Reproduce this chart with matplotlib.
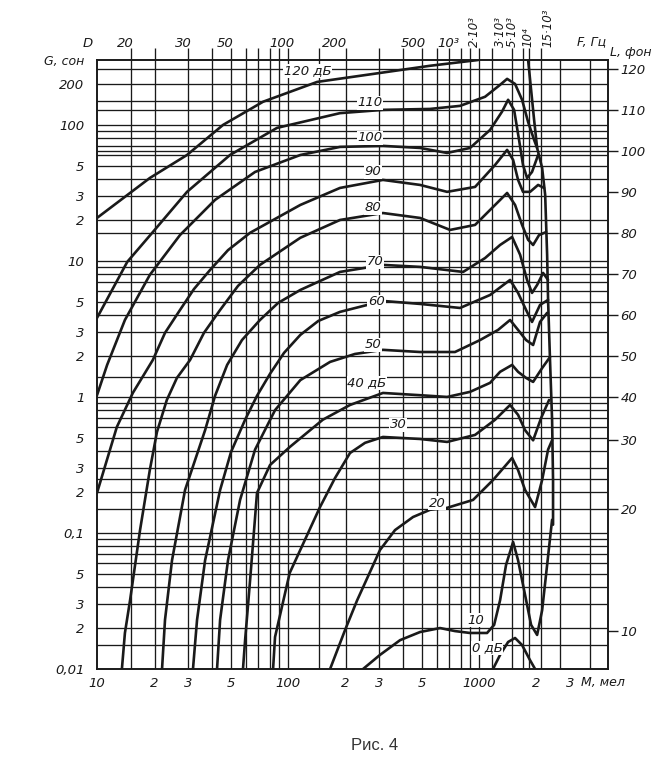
import matplotlib.pyplot as plt

plt.rcParams['font.family'] = ['DejaVu Sans']

# кривые громкости G (сон) в зависимости от высоты M (мел) при уровнях 0...120 дБ
mel_120 = [10, 18.9, 29.6, 45.7, 74, 142, 279, 553, 988, 1288, 1489, 1679, 1806,
           1872, 1941, 2013, 2138, 2218, 2271, 2297, 2354, 2411, 2439, 2439]
g_120 = [20.7, 40.7, 60.1, 100, 148, 207, 237, 272, 300, 368, 394, 356, 300,
         181, 109, 67.7, 48.3, 30.6, 11.1, 5.17, 1.78, 0.678, 0.245, 0.115]

mel_110 = [10, 14.4, 19.6, 29.6, 49.7, 87.6, 187, 314, 553, 795, 1075, 1288, 1402,
           1543, 1679, 1806, 1941, 2013]
g_110 = [3.81, 9.84, 16.3, 32.2, 60.1, 95.1, 122, 129, 131, 138, 161, 197, 218,
         200, 153, 105, 77.6, 67.7]

mel_100 = [10, 11.3, 14.0, 18.9, 27.2, 41.5, 67.2, 116, 187, 314, 491, 680, 897,
           1142, 1318, 1419, 1525, 1619, 1698, 1783, 1893, 2037]
g_100 = [1.03, 1.72, 3.68, 7.89, 15.5, 28.1, 45.1, 60.1, 68.9, 70.1, 67.7, 62.2, 67.7,
         91.9, 125, 153, 129, 77.6, 50.8, 40.7, 45.1, 60.1]

mel_90 = [10, 12.7, 15.4, 19.6, 22.7, 27.2, 32.2, 39.1, 48.5, 63.3, 116, 187, 314, 491,
          680, 953, 1213, 1402, 1507, 1600, 1698, 1849, 2037, 2188]
g_90 = [0.197, 0.601, 1.07, 1.87, 2.96, 4.36, 6.22, 8.59, 12.0, 16.1, 25.8, 34.4, 39.4, 36.2,
        32.2, 35.0, 50.8, 65.5, 55.3, 39.4, 32.2, 32.2, 36.2, 34.4]

mel_80 = [13.5, 14.0, 14.9, 16.8, 18.9, 20.6, 23.2, 26.2, 30.7, 36.3, 44.1, 54.7, 71.3,
          116, 187, 314, 491, 705, 953, 1213, 1402, 1543, 1679, 1806, 1918, 2061, 2244]
g_80 = [0.01, 0.0184, 0.0321, 0.105, 0.29, 0.553, 0.95, 1.38, 1.87, 2.96, 4.36, 6.55, 9.35,
        14.8, 20.0, 22.5, 20.7, 16.9, 18.4, 25.8, 31.6, 25.8, 18.4, 14.3, 13.1, 15.5, 16.3]

mel_70 = [21.9, 22.7, 24.7, 28.9, 36.8, 41.5, 48.0, 57.4, 71.3, 88.7, 116, 187, 314, 491,
          825, 1075, 1288, 1489, 1640, 1783, 1893, 2013, 2163, 2297]
g_70 = [0.01, 0.023, 0.063, 0.207, 0.57, 1.02, 1.72, 2.62, 3.68, 4.91, 6.12, 8.30, 9.35, 9.04,
        8.30, 10.5, 13.1, 15.0, 11.1, 7.25, 5.82, 6.66, 8.16, 7.25]

mel_60 = [31.8, 33.4, 36.8, 44.1, 50.3, 59.6, 68.8, 80.5, 95.3, 116, 144, 187, 314, 491,
          795, 1142, 1453, 1600, 1762, 1893, 2085, 2297]
g_60 = [0.01, 0.023, 0.063, 0.207, 0.394, 0.68, 1.02, 1.48, 2.11, 2.86, 3.62, 4.22, 5.08, 4.83,
        4.51, 5.62, 7.25, 5.82, 4.36, 3.56, 4.75, 5.17]

mel_50 = [42.5, 44.1, 48.5, 56.1, 67.2, 85.5, 116, 166, 224, 314, 491, 748, 1012, 1257,
          1453, 1600, 1762, 1918, 2085, 2271]
g_50 = [0.01, 0.023, 0.063, 0.175, 0.41, 0.80, 1.33, 1.81, 2.07, 2.22, 2.14, 2.14, 2.62, 3.11,
        3.68, 3.11, 2.62, 2.41, 3.56, 4.15]

mel_40 = [58.1, 59.6, 63.3, 68.8, 80.5, 102, 152, 211, 314, 491, 680, 897, 1142,
          1288, 1489, 1600, 1762, 1918, 2138, 2354]
g_40 = [0.01, 0.0163, 0.045, 0.197, 0.316, 0.428, 0.68, 0.873, 1.07, 1.03, 1.0, 1.09, 1.27,
        1.53, 1.72, 1.53, 1.38, 1.29, 1.63, 1.97]

mel_30 = [83.5, 85.5, 102, 147, 176, 211, 253, 314, 491, 680, 953, 1213, 1453, 1600, 1741,
          1918, 2112, 2325]
g_30 = [0.01, 0.0172, 0.0508, 0.155, 0.253, 0.387, 0.46, 0.508, 0.491, 0.467, 0.526, 0.68,
        0.873, 0.738, 0.57, 0.48, 0.70, 0.95]

mel_20 = [166, 199, 230, 303, 363, 451, 553, 680, 930, 1183, 1489, 1600, 1741, 1964, 2138,
          2297, 2411]
g_20 = [0.01, 0.0194, 0.032, 0.075, 0.105, 0.131, 0.148, 0.153, 0.175, 0.245, 0.356, 0.29,
        0.207, 0.155, 0.245, 0.41, 0.48]

mel_10 = [247, 303, 386, 491, 625, 748, 897, 1101, 1199, 1288, 1384, 1507, 1600,
          1741, 1872, 2013, 2138, 2271, 2411]
g_10 = [0.01, 0.0127, 0.0163, 0.0187, 0.0200, 0.019, 0.0184, 0.0184, 0.0211, 0.032,
        0.0582, 0.0859, 0.063, 0.035, 0.0211, 0.0178, 0.027, 0.0582, 0.125]

mel_0 = [1183, 1288, 1419, 1543, 1679, 1849, 1964]
g_0 = [0.01, 0.0127, 0.0158, 0.0169, 0.015, 0.0116, 0.01]

# подписи кривых
lab_text = ['120 дБ', '110', '100', '90', '80', '70', '60', '50', '40 дБ', '30', '20', '10', '0 дБ']
lab_mel = [127, 269, 269, 279, 279, 285, 290, 279, 259, 377, 603, 964, 1101]
lab_g = [249, 145, 80.2, 45.1, 24.5, 9.84, 5.0, 2.41, 1.27, 0.622, 0.166, 0.0229, 0.0143]

# сетка
mel_grid = [15, 20, 30, 40, 50, 60, 70, 80, 90, 100, 145, 200, 300, 400, 500, 600, 700,
            800, 900, 1000, 1170, 1480, 1700, 1830, 2100, 2650, 3800]
g_grid = [0.015, 0.02, 0.03, 0.04, 0.05, 0.06, 0.07, 0.08, 0.09,
          0.1, 0.15, 0.2, 0.25, 0.3, 0.4, 0.5, 0.6, 0.7, 0.8, 0.9,
          1, 1.4, 2, 3, 4, 5, 6, 7, 8, 9,
          10, 16, 20, 30, 40, 50, 60, 64, 70, 80, 90,
          100, 128, 150, 200, 256]

# оси
x_ticks = [10, 20, 30, 50, 100, 200, 300, 500, 1000, 2000, 3000]
x_labels = ['10', '2', '3', '5', '100', '2', '3', '5', '1000', '2', '3']
y_ticks = [0.01, 0.02, 0.03, 0.05, 0.1, 0.2, 0.3, 0.5, 1, 2, 3, 5, 10, 20, 30, 50, 100, 200]
y_labels = ['0,01', '2', '3', '5', '0,1', '2', '3', '5', '1', '2', '3', '5', '10', '2', '3', '5', '100', '200']
phon_g = [256, 128, 64, 32, 16, 8, 4, 2, 1, 0.48, 0.15, 0.019]
phon_labels = ['120', '110', '100', '90', '80', '70', '60', '50', '40', '30', '20', '10']

top_text = ['D', '20', '30', '50', '100', '200', '500', '10³']
top_mel = [9.0, 14.0, 28.2, 46.8, 93, 176, 450, 687]
top_rot_text = ['2·10³', '3·10³', '5·10³', '10⁴', '15·10³']
top_rot_mel = [942, 1288, 1489, 1806, 2297]

ink = '#1a1a1a'
curves = [(mel_120, g_120), (mel_110, g_110), (mel_100, g_100), (mel_90, g_90),
          (mel_80, g_80), (mel_70, g_70), (mel_60, g_60), (mel_50, g_50),
          (mel_40, g_40), (mel_30, g_30), (mel_20, g_20), (mel_10, g_10), (mel_0, g_0)]

fig = plt.figure(figsize=(6.57, 7.67), dpi=100)
ax = fig.add_axes([97 / 657, 1 - 669 / 767, 511 / 657, 609 / 767])
ax.set_xscale('log')
ax.set_yscale('log')
ax.set_xlim(10, 4730)
ax.set_ylim(0.01, 300)

for m in mel_grid:
    ax.axvline(m, color=ink, lw=0.95, zorder=1)
for g in g_grid:
    ax.axhline(g, color=ink, lw=0.95, zorder=1)

for m, g in curves:
    ax.plot(m, g, color=ink, lw=1.9, solid_joinstyle='round', solid_capstyle='round', zorder=3)

for t, m, g in zip(lab_text, lab_mel, lab_g):
    ax.text(m, g, t, fontsize=9.5, style='italic', ha='center', va='center', color=ink,
            zorder=4, bbox=dict(facecolor='white', edgecolor='none', pad=0.6))

for s in ax.spines.values():
    s.set_linewidth(1.4)
    s.set_color(ink)

ax.xaxis.set_minor_locator(plt.NullLocator())
ax.yaxis.set_minor_locator(plt.NullLocator())
ax.set_xticks(x_ticks)
ax.set_xticklabels(x_labels, fontsize=9.5, style='italic', color=ink)
ax.set_yticks(y_ticks)
ax.set_yticklabels(y_labels, fontsize=9.5, style='italic', color=ink)
ax.tick_params(axis='x', length=0, pad=6)
ax.tick_params(axis='y', length=0, pad=9)

# верхняя шкала частот
top = ax.twiny()
top.set_xscale('log')
top.set_xlim(ax.get_xlim())
top.xaxis.set_minor_locator(plt.NullLocator())
top.set_xticks(mel_grid[:25])
top.set_xticklabels([])
top.tick_params(axis='x', direction='out', length=9, width=0.95, color=ink)
for t, m in zip(top_text, top_mel):
    top.text(m, 1.027, t, transform=top.get_xaxis_transform(), fontsize=9.5,
             style='italic', ha='center', va='center', color=ink)
for t, m in zip(top_rot_text, top_rot_mel):
    top.text(m, 1.022, t, transform=top.get_xaxis_transform(), fontsize=8.5,
             style='italic', ha='center', va='bottom', rotation=90, color=ink)
top.text(3880, 1.03, 'F, Гц', transform=top.get_xaxis_transform(), fontsize=9,
         style='italic', ha='center', va='center', color=ink)

# правая шкала уровня громкости
right = ax.twinx()
right.set_yscale('log')
right.set_ylim(ax.get_ylim())
right.yaxis.set_minor_locator(plt.NullLocator())
right.set_yticks(phon_g)
right.set_yticklabels(phon_labels, fontsize=9.5, style='italic', color=ink)
right.tick_params(axis='y', direction='out', length=7, width=1.0, color=ink, pad=2)
for s in list(top.spines.values()) + list(right.spines.values()):
    s.set_visible(False)

ax.text(-0.065, 0.997, 'G, сон', transform=ax.transAxes, fontsize=9, style='italic',
        ha='center', va='center', color=ink)
ax.text(1.004, 1.012, 'L, фон', transform=ax.transAxes, fontsize=9, style='italic',
        ha='left', va='center', color=ink)
ax.text(0.99, -0.022, 'M, мел', transform=ax.transAxes, fontsize=9, style='italic',
        ha='center', va='center', color=ink)

fig.text(375 / 657, 1 - 745 / 767, 'Рис. 4', fontsize=12, ha='center', va='center',
         family=['Liberation Sans', 'DejaVu Sans'], color='#333333')

fig.savefig('out.png', dpi=100)
